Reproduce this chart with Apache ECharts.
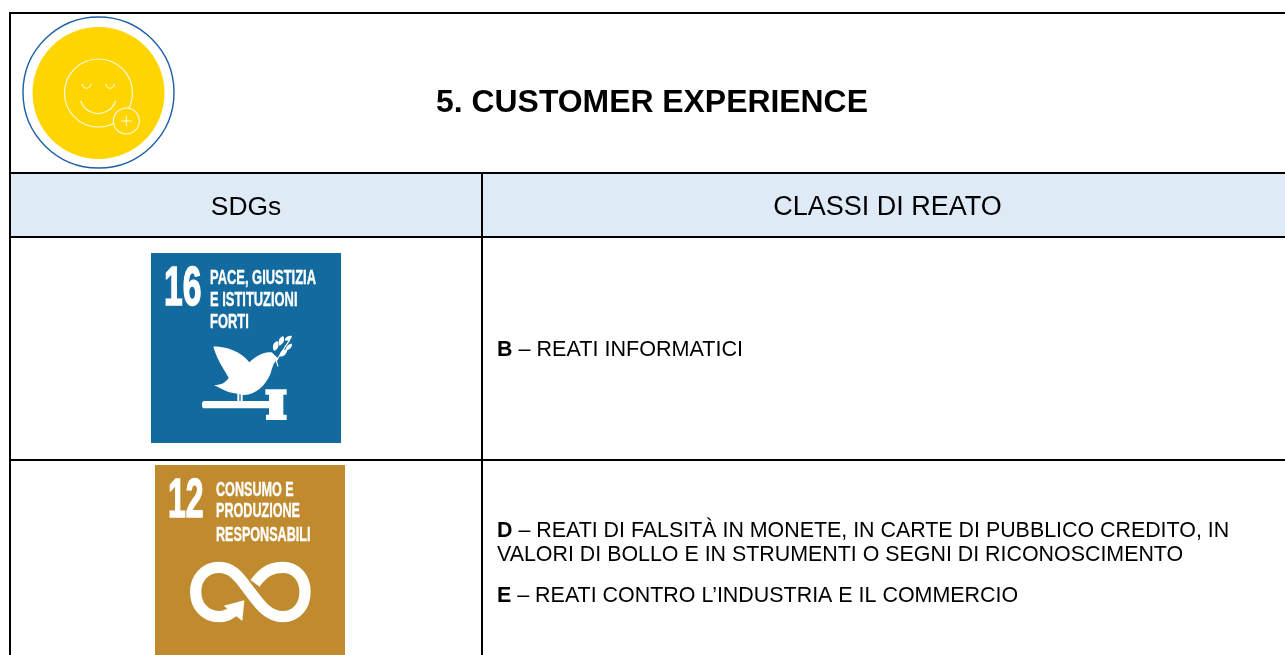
<!DOCTYPE html>
<html><head><meta charset="utf-8">
<style>html,body{margin:0;padding:0;background:#fff}#c{width:1285px;height:655px}</style>
<script src="https://cdn.jsdelivr.net/npm/echarts@6/dist/echarts.min.js"></script>
</head><body><div id="c"></div>
<script>
const titleText = '5. CUSTOMER EXPERIENCE';
const headers = ['SDGs', 'CLASSI DI REATO'];
const rowB = [['B', ' – REATI INFORMATICI']];
const rowD = [['D', ' – REATI DI FALSITÀ IN MONETE, IN CARTE DI PUBBLICO CREDITO, IN'], ['', 'VALORI DI BOLLO E IN STRUMENTI O SEGNI DI RICONOSCIMENTO'], ['E', ' – REATI CONTRO L’INDUSTRIA E IL COMMERCIO']];
const badge16 = ['16', 'PACE, GIUSTIZIA', 'E ISTITUZIONI', 'FORTI'];
const badge12 = ['12', 'CONSUMO E', 'PRODUZIONE', 'RESPONSABILI'];

const chart = echarts.init(document.getElementById('c'), null, {renderer:'canvas'});
const SANS = '"Liberation Sans", Arial, sans-serif';
const NARROW = '"Liberation Sans Narrow", "Liberation Sans", sans-serif';
const g = [];
function rect(x,y,w,h,fill){g.push({type:'rect',shape:{x,y,width:w,height:h},style:{fill},silent:true});}
function txt(t,x,y,font,fill,align,sx,bold){g.push({type:'text',x,y,scaleX:sx||1,style:{text:t,x:0,y:0,font,fill:fill||'#000',textAlign:align||'left',textVerticalAlign:'middle',stroke:bold?fill:null,lineWidth:bold||0},silent:true});}
function circ(cx,cy,r,stroke,lw,fill){g.push({type:'circle',shape:{cx,cy,r},style:{stroke:stroke,lineWidth:lw,fill:fill||'none'},silent:true});}

// header fills
rect(11,174,1274,63,'#DEEAF6');

// table rules
const K='#000';
rect(9,12,1276,2,K);
rect(9,12,2,643,K);
rect(9,172,1276,2,K);
rect(9,236,1276,2,K);
rect(9,459,1276,2,K);
rect(481,172,2,483,K);

// emblem
const L='#FFFBE6';
circ(98.5,92.5,75.5,'#1F5FA6',1.4);
circ(98.5,93,66,'none',0,'#FFD500');
circ(98.5,93,34,L,1.1);
circ(126.3,121,13,L,1.1,'#FFD500');
g.push({type:'line',shape:{x1:120.8,y1:121,x2:131.8,y2:121},style:{stroke:L,lineWidth:1},silent:true});
g.push({type:'line',shape:{x1:126.3,y1:115.5,x2:126.3,y2:126.5},style:{stroke:L,lineWidth:1},silent:true});
g.push({type:'arc',shape:{cx:98.2,cy:95,r:18.5,startAngle:0.33,endAngle:Math.PI-0.33},style:{stroke:L,lineWidth:1.1,fill:'none'},silent:true});
g.push({type:'arc',shape:{cx:86.5,cy:84,r:4.2,startAngle:0,endAngle:Math.PI},style:{stroke:L,lineWidth:1.1,fill:'none'},silent:true});
g.push({type:'arc',shape:{cx:110,cy:84,r:4.2,startAngle:0,endAngle:Math.PI},style:{stroke:L,lineWidth:1.1,fill:'none'},silent:true});

// texts
txt(titleText,652,103,'bold 31.9px '+SANS,'#000','center');
txt(headers[0],246,207.5,'26.4px '+SANS,'#000','center');
txt(headers[1],887.5,207.5,'27px '+SANS,'#000','center');
const BODY=21.4;
function bodyLine(pair,y,sx){
  const x=497;
  if(pair[0]){
    txt(pair[0],x,y,'bold '+BODY+'px '+SANS);
    txt(pair[1],x+BODY*(pair[0]==='E'?0.667:0.722),y,BODY+'px '+SANS,'#000','left',sx);
  } else {
    txt(pair[1],x,y,BODY+'px '+SANS);
  }
}
bodyLine(rowB[0],350,1.009);
bodyLine(rowD[0],531);
bodyLine(rowD[1],555);
bodyLine(rowD[2],596,1.002);

// shape helper: traces each icon outline through a registered path class
let pid=0;
function p(d,ox,oy,style){
  const name='sdgIcon'+(pid++);
  echarts.graphic.registerShape(name,echarts.graphic.extendPath(d,{}));
  g.push({type:'group',x:ox,y:oy,scaleX:1/3,scaleY:1/3,silent:true,children:[{type:name,shape:{},style,silent:true}]});
}

// SDG 16
rect(151,253,190,190,'#136A9F');
const W='#fff';
const NUM='bold 56px '+NARROW, CAP='bold 21px '+NARROW;
txt(badge16[0],164,290,NUM,W,'left',0.6,1.6);
txt(badge16[1],210,278,CAP,W,'left',0.615,0.4);
txt(badge16[2],210,300.5,CAP,W,'left',0.615,0.4);
txt(badge16[3],210,322.5,CAP,W,'left',0.615,0.4);
p('M220,305 C250,303 300,316 328,352 C345,335 370,318 395,322 L416,342 C404,345 399,360 392,385 C376,424 347,449 312,450 L268,442 C255,437 240,430 222,420 C245,420 258,412 266,398 C250,370 232,345 220,305 Z',140,245,{fill:W});
p('M292,445 h6 v24 h-6 Z M302,445 h6 v24 h-6 Z',140,245,{fill:W});
p('M192,468 H392 V490 H192 Q186,490 186,479 Q186,468 192,468 Z M376,433 H440 V449 H430 V509 H440 V525 H378 V509 H387 V449 H376 Z',140,245,{fill:W});
p('M408,352 C414,335 430,315 450,283 M408,345 L414,364',140,245,{stroke:W,lineWidth:3.5,fill:'none'});
p('M402,318 C394,302 402,292 412,288 C420,300 414,314 402,318 Z M418,302 C412,286 420,276 430,274 C436,286 430,298 418,302 Z M434,286 C436,276 444,272 456,272 C454,284 446,290 434,286 Z M418,334 C420,320 430,312 442,314 C440,328 430,336 418,334 Z M436,316 C438,304 446,296 456,296 C456,308 448,316 436,316 Z',140,245,{fill:W});

// SDG 12
rect(155,465,190,190,'#BF8B2E');
txt(badge12[0],168,502,NUM,W,'left',0.57,1.6);
txt(badge12[1],216,490,CAP,W,'left',0.6,0.4);
txt(badge12[2],216,511.5,CAP,W,'left',0.6,0.4);
txt(badge12[3],216,535,CAP,W,'left',0.6,0.4);
p('M330,385 C360,345 385,337 413,337 C455,337 480,370 480,410 C480,452 455,485 413,485 C370,485 345,450 315,410 C285,370 265,337 222,337 C180,337 152,370 152,410 C152,452 180,485 222,485 C245,485 262,475 278,458',145,455,{stroke:W,lineWidth:34,fill:'none'});
p('M236,452 L298,436 L292,498 Z',145,455,{fill:W});

chart.setOption({animation:false,backgroundColor:'#fff',graphic:{elements:g}});
</script></body></html>
